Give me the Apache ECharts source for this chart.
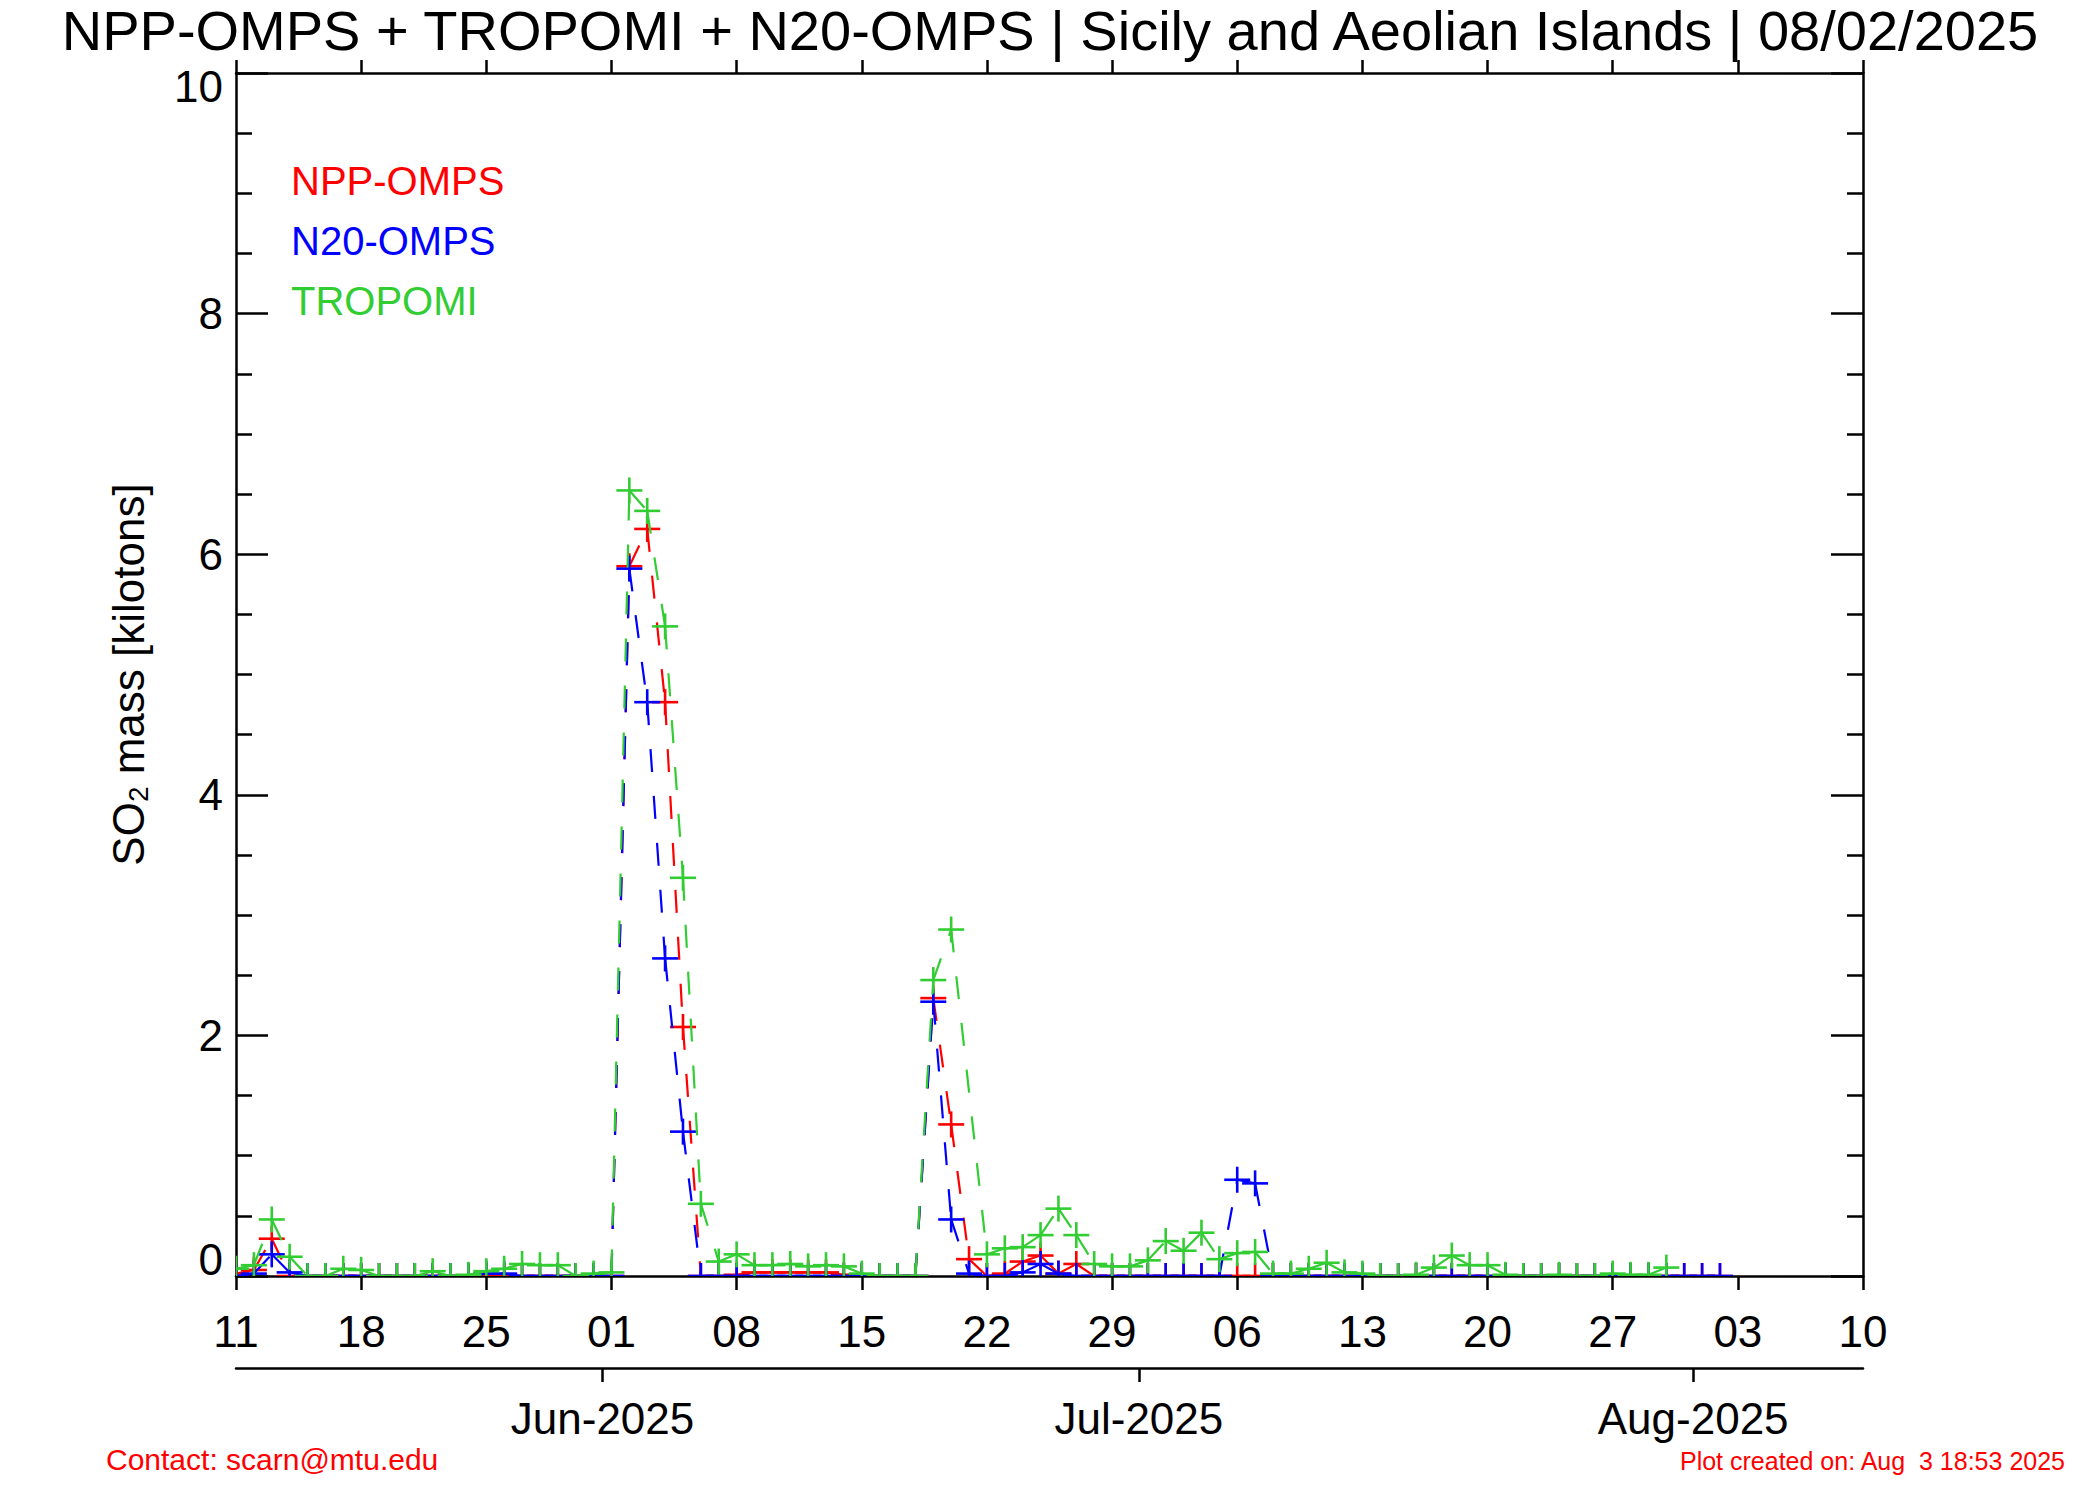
<!DOCTYPE html>
<html>
<head>
<meta charset="utf-8">
<title>SO2 mass - Sicily and Aeolian Islands</title>
<script src="https://cdn.jsdelivr.net/npm/echarts@6.0.0/dist/echarts.min.js"></script>
<style>
  html, body { margin: 0; padding: 0; background: #fff; }
  #chart { width: 2100px; height: 1500px; }
</style>
</head>
<body>
<div id="chart"></div>
<script>
// one value per day starting at startDate, null = no retrieval that day
const startDate = '2025-05-11'
const axisDays = 91 // 11 May .. 10 Aug

const nppOmps = [
  0.02, 0.05, 0.31, 0.00, 0.00, 0.00, 0.00, 0.00, 0.00, 0.00, 0.00, 0.00, 0.00, 0.00, 0.00, 0.00, 0.00, 0.00, 0.00, 0.00, 0.00,
  0.00, 5.90, 6.21, 4.77, 2.07, 0.00, 0.00, 0.01, 0.03, 0.03, 0.03, 0.03, 0.03, 0.01, 0.00, 0.00, 0.00, 0.00, 2.31, 1.26,
  0.14, 0.00, 0.02, 0.12, 0.17, 0.02, 0.10, 0.00, 0.00, 0.00,
  0.00, 0.00, 0.00, 0.00, 0.00, 0.00, 0.00, 0.00, 0.00, 0.00, 0.00, 0.00, 0.00, 0.00, 0.00, 0.00, 0.00, 0.00, 0.00, 0.00,
  0.00, 0.00, 0.00, 0.00, 0.00, 0.00, 0.00, 0.00, 0.00, 0.00, 0.00,
  0.00, 0.00
]
const n20Omps = [
  0.00, 0.02, 0.18, 0.03, 0.00, 0.00, 0.00, 0.00, 0.00, 0.00, 0.00, 0.00, 0.00, 0.00, 0.02, 0.02, 0.00, 0.00, 0.00, 0.00, 0.00,
  0.00, 5.88, 4.77, 2.64, 1.20, 0.00, 0.00, 0.00, 0.00, 0.00, 0.00, 0.00, 0.00, 0.00, 0.00, 0.00, 0.00, 0.00, 2.28, 0.47,
  0.02, 0.00, 0.00, 0.03, 0.10, 0.02, 0.00, 0.00, 0.00, 0.00,
  0.00, 0.00, 0.00, 0.00, 0.00, 0.80, 0.77, 0.00, 0.00, 0.00, 0.00, 0.00, 0.00, 0.00, 0.00, 0.00, 0.00, 0.00, 0.00, 0.00,
  0.00, 0.00, 0.00, 0.00, 0.00, 0.00, 0.00, 0.00, 0.00, 0.00, 0.00,
  0.00, 0.00
]
const tropomi = [
  0.06, 0.09, 0.47, 0.16, 0.00, 0.00, 0.06, 0.05, 0.00, 0.00, 0.00, 0.04, 0.00, 0.01, 0.04, 0.06, 0.10, 0.09, 0.09, 0.00, 0.02,
  0.03, 6.53, 6.36, 5.40, 3.31, 0.60, 0.12, 0.18, 0.09, 0.09, 0.10, 0.08, 0.09, 0.08, 0.02, 0.00, 0.00, 0.00, 2.46, 2.88,
  null, 0.18, 0.23, 0.24, 0.34, 0.56, 0.34, 0.10, 0.08, 0.08,
  0.13, 0.29, 0.21, 0.36, 0.14, 0.19, 0.20, 0.02, 0.02, 0.06, 0.11, 0.03, 0.02, 0.00, 0.00, 0.01, 0.07, 0.17, 0.09, 0.09,
  0.01, 0.00, 0.00, 0.01, 0.00, 0.00, 0.02, 0.01, 0.01, 0.07, null,
  null, null
]

const monthTicks = ['2025-06-01', '2025-07-01', '2025-08-01']
const monthLabels = ['Jun-2025', 'Jul-2025', 'Aug-2025']

const seriesNames = ['NPP-OMPS', 'N20-OMPS', 'TROPOMI']
const seriesColors = ['#ff0000', '#0000ff', '#32cd32']

const FONT = "'Liberation Sans', Arial, Helvetica, sans-serif"
const DAY = 86400000
const t0 = Date.parse(startDate + 'T00:00:00Z')

function dayIndex (s) {
  return Math.round((Date.parse(s + 'T00:00:00Z') - t0) / DAY)
}
function dayLabel (v) {
  let d = new Date(t0 + v * DAY).getUTCDate()
  return (d < 10 ? '0' : '') + d
}
// [day, value] pairs, days without data are dropped (line joins across them)
function toPoints (vals) {
  let pts = []
  vals.forEach((v, i) => { if (v !== null) pts.push([i, v]) })
  return pts
}

// IDL style: dashed segment between neighbours (pattern restarts each segment) + '+' marker
function plusLine (pts, color) {
  return function (params, api) {
    let i = params.dataIndex
    let p = api.coord([api.value(0), api.value(1)])
    let kids = []
    if (i + 1 < pts.length) {
      let q = api.coord(pts[i + 1])
      kids.push({
        type: 'line',
        shape: { x1: p[0], y1: p[1], x2: q[0], y2: q[1] },
        style: { stroke: color, lineWidth: 2.2, lineDash: [23, 24], fill: null }
      })
    }
    kids.push({ type: 'line', shape: { x1: p[0] - 13, y1: p[1], x2: p[0] + 13, y2: p[1] }, style: { stroke: color, lineWidth: 2.6 } })
    kids.push({ type: 'line', shape: { x1: p[0], y1: p[1] - 13, x2: p[0], y2: p[1] + 13 }, style: { stroke: color, lineWidth: 2.6 } })
    return { type: 'group', children: kids }
  }
}

const allValues = [nppOmps, n20Omps, tropomi]
const series = allValues.map((vals, k) => {
  let pts = toPoints(vals)
  return {
    name: seriesNames[k],
    type: 'custom',
    xAxisIndex: 0,
    yAxisIndex: 0,
    clip: true,
    silent: true,
    data: pts,
    renderItem: plusLine(pts, seriesColors[k])
  }
})

// the month ticks of the original sit half a day before midnight
const monthDays = monthTicks.map(s => dayIndex(s) - 0.5)
const axisLineStyle = { color: '#000', width: 2.5 }

let chart = echarts.init(document.getElementById('chart'), null, { renderer: 'svg' })
chart.setOption({
  backgroundColor: '#fff',
  animation: false,
  textStyle: { fontFamily: FONT },
  title: {
    text: 'NPP-OMPS + TROPOMI + N20-OMPS | Sicily and Aeolian Islands | 08/02/2025',
    left: 'center',
    top: -3,
    textStyle: { fontSize: 56, fontWeight: 'normal', color: '#000', fontFamily: FONT }
  },
  grid: { left: 236, right: 237, top: 73, bottom: 224, containLabel: false },
  xAxis: [
    {
      type: 'value', min: 0, max: axisDays, interval: 7, position: 'bottom',
      axisLine: { show: true, onZero: false, lineStyle: axisLineStyle },
      axisTick: { show: true, inside: false, length: 14, lineStyle: axisLineStyle },
      axisLabel: { margin: 33, fontSize: 44, color: '#000', fontFamily: FONT, formatter: dayLabel },
      splitLine: { show: false }
    },
    {
      type: 'value', min: 0, max: axisDays, interval: 7, position: 'top',
      axisLine: { show: true, onZero: false, lineStyle: axisLineStyle },
      axisTick: { show: true, inside: false, length: 13, lineStyle: axisLineStyle },
      axisLabel: { show: false },
      splitLine: { show: false }
    },
    {
      // month axis under the day axis
      type: 'value', min: 0, max: axisDays, position: 'bottom', offset: 92,
      axisLine: { show: true, onZero: false, lineStyle: axisLineStyle },
      axisTick: { show: true, inside: false, length: 14, customValues: monthDays, lineStyle: axisLineStyle },
      axisLabel: {
        margin: 28, fontSize: 44, color: '#000', fontFamily: FONT, customValues: monthDays,
        formatter: v => monthLabels[monthDays.indexOf(v)] || ''
      },
      splitLine: { show: false }
    }
  ],
  yAxis: [
    {
      type: 'value', min: 0, max: 10, interval: 2, position: 'left',
      name: '{a|SO}{b|2}{a| mass [kilotons]}',
      nameLocation: 'middle',
      nameGap: 83,
      nameRotate: 90,
      nameTextStyle: {
        color: '#000',
        rich: {
          a: { fontSize: 44, lineHeight: 50, fontFamily: FONT, color: '#000' },
          b: { fontSize: 28, lineHeight: 28, padding: [20, 0, 0, 0], fontFamily: FONT, color: '#000' }
        }
      },
      axisLine: { show: true, onZero: false, lineStyle: axisLineStyle },
      axisTick: { show: true, inside: true, length: 32, lineStyle: axisLineStyle },
      minorTick: { show: true, splitNumber: 4, length: 16, lineStyle: axisLineStyle },
      axisLabel: {
        margin: 13, fontSize: 44, color: '#000', fontFamily: FONT,
        formatter: v => v === 0 ? '{lo|0}' : v === 10 ? '{hi|10}' : String(v),
        rich: {
          lo: { fontSize: 44, padding: [0, 0, 34, 0], color: '#000', fontFamily: FONT },
          hi: { fontSize: 44, padding: [27, 0, 0, 0], color: '#000', fontFamily: FONT }
        }
      },
      splitLine: { show: false },
      minorSplitLine: { show: false }
    },
    {
      type: 'value', min: 0, max: 10, interval: 2, position: 'right',
      axisLine: { show: true, onZero: false, lineStyle: axisLineStyle },
      axisTick: { show: true, inside: true, length: 32, lineStyle: axisLineStyle },
      minorTick: { show: true, splitNumber: 4, length: 16, lineStyle: axisLineStyle },
      axisLabel: { show: false },
      splitLine: { show: false },
      minorSplitLine: { show: false }
    }
  ],
  graphic: [
    { type: 'text', x: 291, y: 181, style: { text: seriesNames[0], fill: seriesColors[0], fontSize: 40, fontFamily: FONT, verticalAlign: 'middle' } },
    { type: 'text', x: 291, y: 241, style: { text: seriesNames[1], fill: seriesColors[1], fontSize: 40, fontFamily: FONT, verticalAlign: 'middle' } },
    { type: 'text', x: 291, y: 301, style: { text: seriesNames[2], fill: seriesColors[2], fontSize: 40, fontFamily: FONT, verticalAlign: 'middle' } },
    { type: 'text', x: 106, y: 1459, style: { text: 'Contact: scarn@mtu.edu', fill: '#ff0000', fontSize: 30, fontFamily: FONT, verticalAlign: 'middle' } },
    { type: 'text', x: 2065, y: 1461, style: { text: 'Plot created on: Aug  3 18:53 2025', fill: '#ff0000', fontSize: 25, fontFamily: FONT, align: 'right', verticalAlign: 'middle' } }
  ],
  series: series
})
</script>
</body>
</html>
